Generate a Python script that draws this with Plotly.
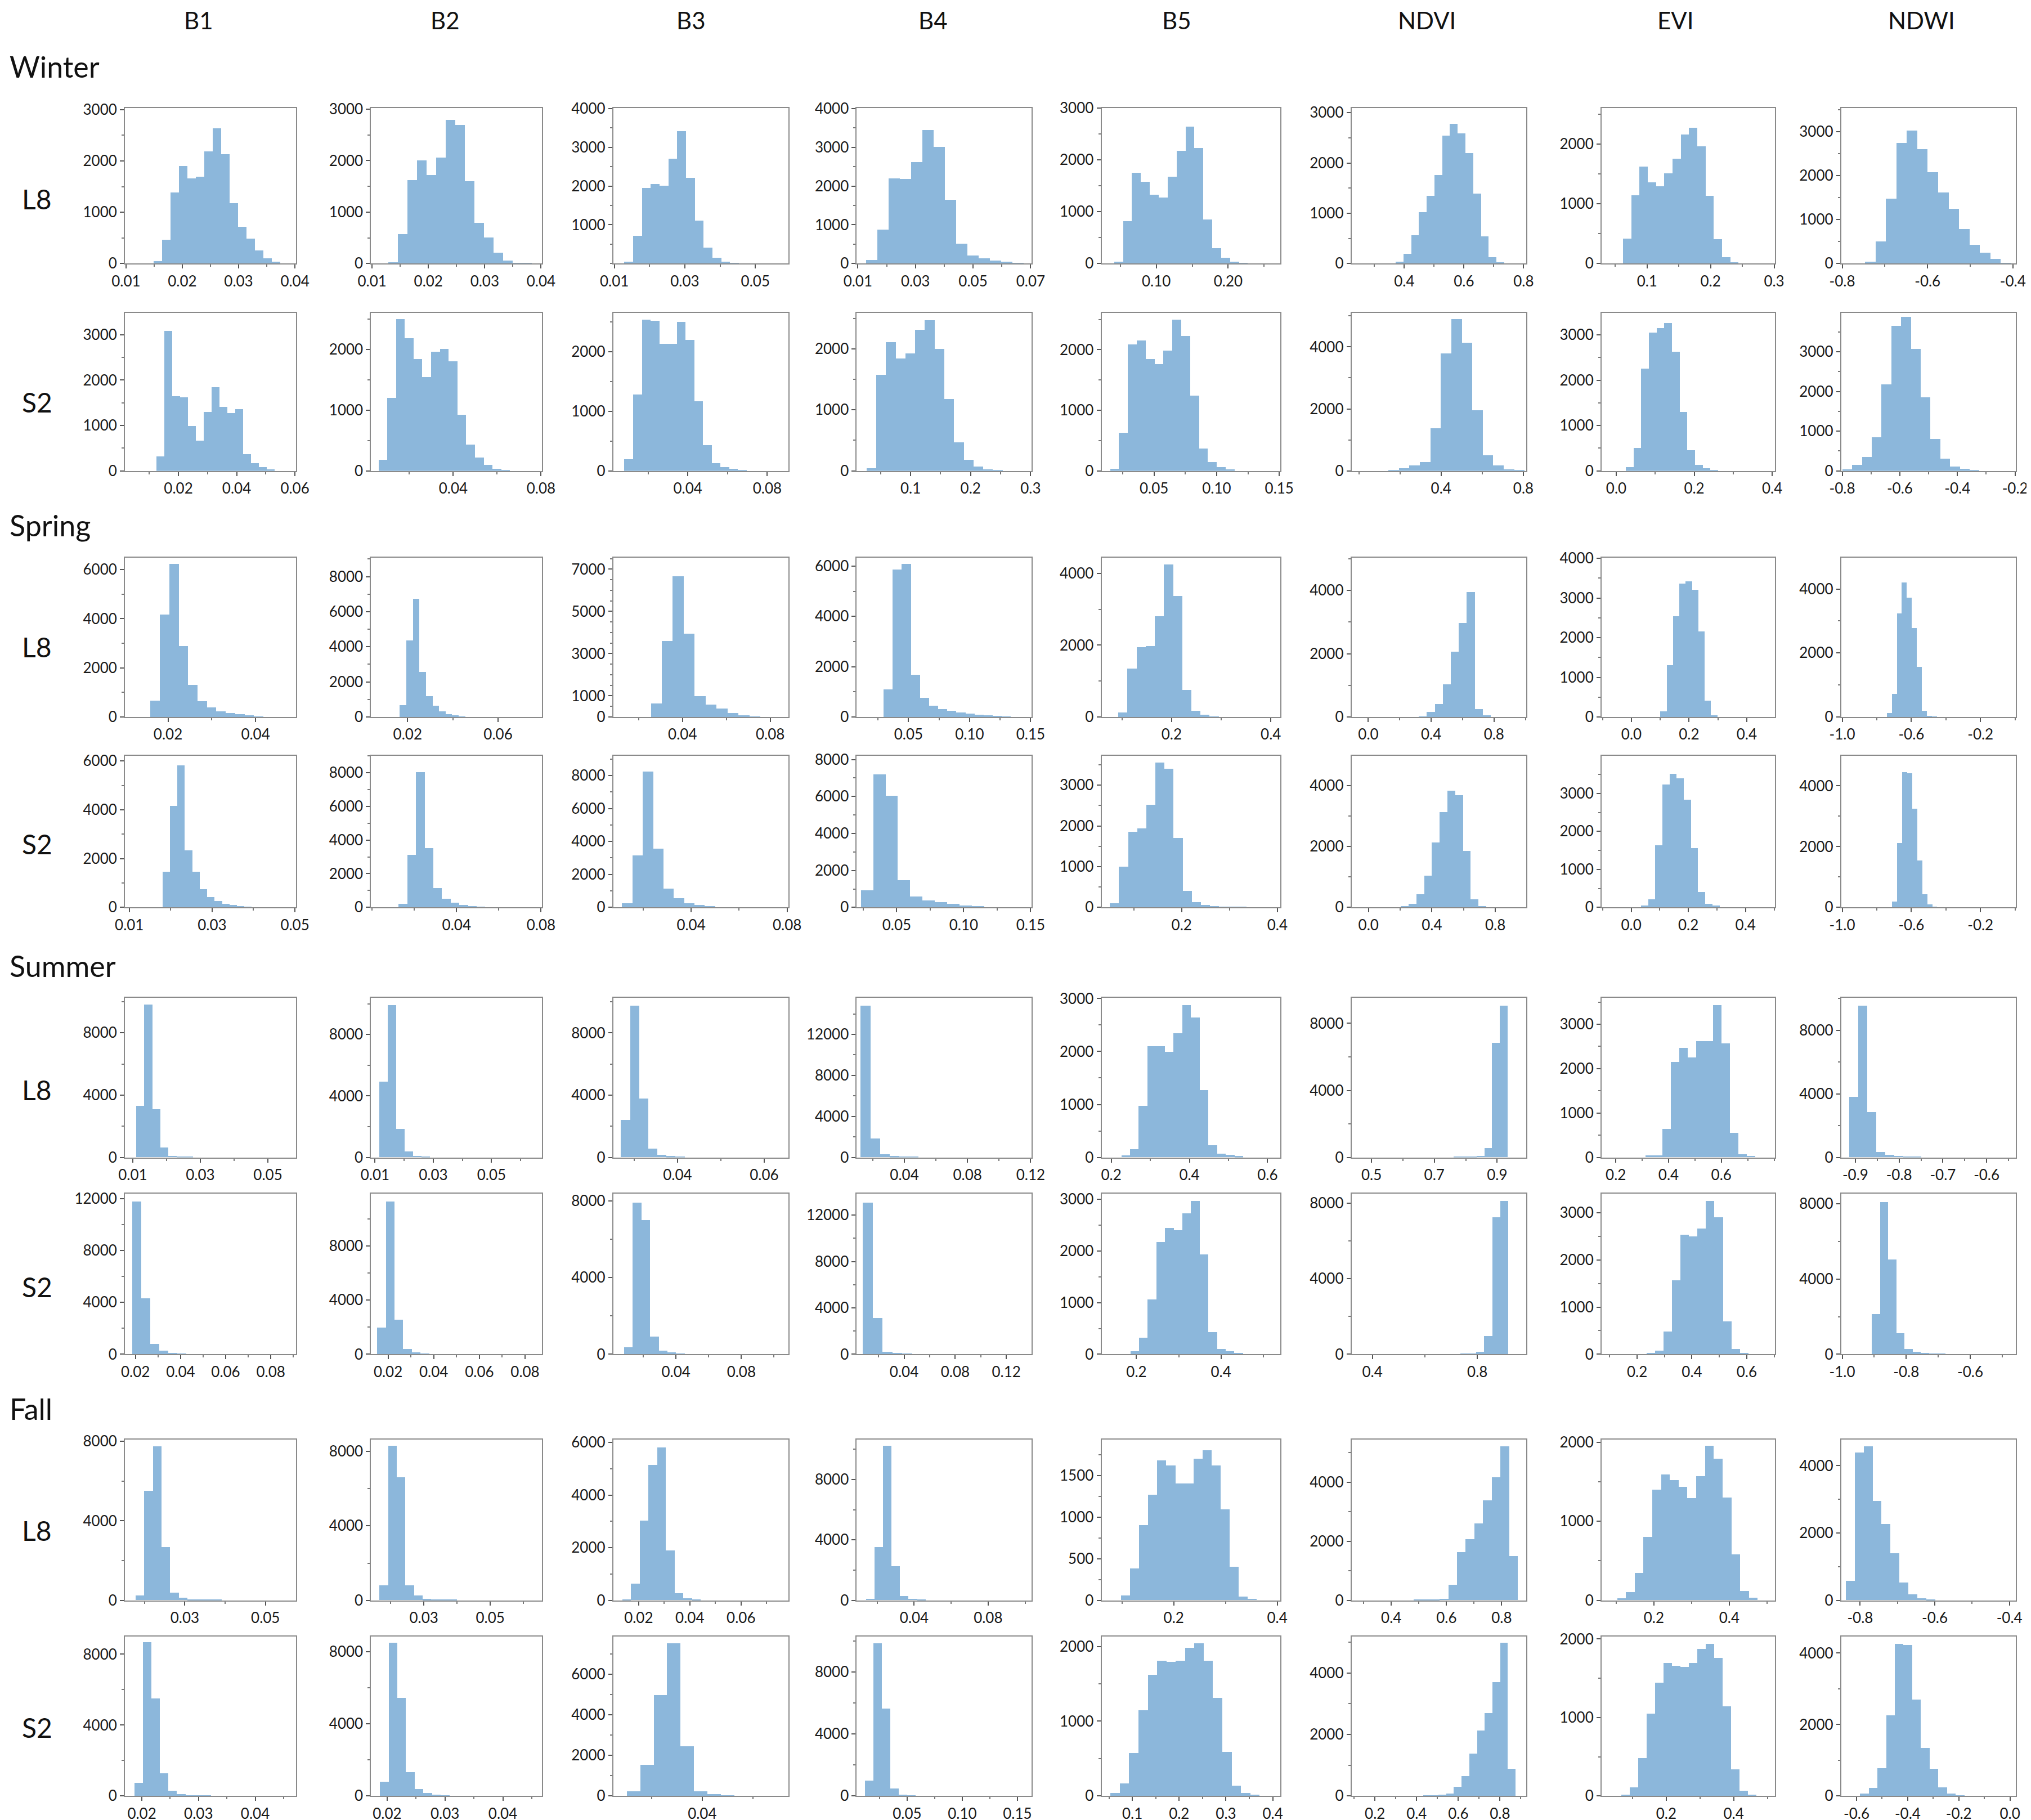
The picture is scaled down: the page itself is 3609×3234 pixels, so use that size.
import plotly.graph_objects as go

# ---------------- labels ----------------
bands = ["B1", "B2", "B3", "B4", "B5", "NDVI", "EVI", "NDWI"]
seasons = ["Winter", "Spring", "Summer", "Fall"]
sensors = ["L8", "S2"]

# ---------------- Winter / L8 ----------------
winter_l8_start = [0.0149, 0.0129, 0.0128, 0.013, 0.041, 0.3705, 0.062, -0.747]
winter_l8_width = [0.0015, 0.0017, 0.0025, 0.0039, 0.0124, 0.026, 0.013, 0.0245]
winter_l8_counts = [
    [50, 460, 1380, 1900, 1660, 1690, 2180, 2640, 2130, 1180, 720, 490, 260, 100, 30],
    [25, 570, 1620, 2000, 1720, 2060, 2790, 2690, 1600, 790, 500, 210, 60, 15, 10],
    [40, 710, 1950, 2050, 2000, 2710, 3410, 2210, 1110, 410, 150, 40, 10],
    [90, 880, 2200, 2180, 2610, 3440, 3010, 1650, 510, 210, 140, 80, 40, 20],
    [35, 820, 1750, 1580, 1330, 1270, 1680, 2180, 2640, 2230, 850, 300, 110, 30, 15],
    [40, 190, 560, 1020, 1350, 1760, 2540, 2780, 2590, 2200, 1390, 540, 120, 20],
    [420, 1140, 1620, 1360, 1290, 1510, 1750, 2160, 2270, 1960, 1130, 410, 110, 20],
    [40, 500, 1480, 2750, 3030, 2610, 2080, 1620, 1250, 790, 430, 240, 100, 20],
]
winter_l8_xrange = [[0.01, 0.04], [0.01, 0.04], [0.01, 0.059], [0.01, 0.07], [0.0255, 0.271],
                    [0.227, 0.806], [0.03, 0.3], [-0.8, -0.395]]
winter_l8_xticks = [["0.01", "0.02", "0.03", "0.04"], ["0.01", "0.02", "0.03", "0.04"],
                    ["0.01", "0.03", "0.05"], ["0.01", "0.03", "0.05", "0.07"], ["0.10", "0.20"],
                    ["0.4", "0.6", "0.8"], ["0.1", "0.2", "0.3"], ["-0.8", "-0.6", "-0.4"]]
winter_l8_yticks = [[0, 1000, 2000, 3000], [0, 1000, 2000, 3000], [1000, 2000, 3000, 4000],
                    [0, 1000, 2000, 3000, 4000], [0, 1000, 2000, 3000], [0, 1000, 2000, 3000],
                    [0, 1000, 2000], [0, 1000, 2000, 3000]]
winter_l8_ymax = [3030, 3020, 4010, 4010, 3000, 3090, 2600, 3540]

# ---------------- Winter / S2 ----------------
winter_s2_start = [0.0125, 0.006, 0.008, 0.027, 0.0147, 0.143, 0.0246, -0.8]
winter_s2_width = [0.0027, 0.004, 0.0044, 0.0162, 0.0071, 0.051, 0.0197, 0.034]
winter_s2_counts = [
    [320, 3090, 1650, 1620, 985, 665, 1300, 1850, 1415, 1270, 1360, 375, 175, 90, 30],
    [180, 1200, 2500, 2180, 1840, 1540, 1960, 2010, 1800, 925, 435, 220, 100, 40, 15],
    [200, 1280, 2540, 2520, 2130, 2130, 2500, 2200, 1170, 430, 130, 65, 40, 20],
    [40, 1580, 2110, 1840, 1930, 2310, 2470, 2000, 1180, 470, 180, 70, 25, 10],
    [40, 630, 2090, 2150, 1850, 1760, 1990, 2500, 2230, 1240, 370, 150, 65, 30],
    [30, 80, 170, 290, 1380, 3800, 4900, 4130, 1960, 500, 170, 60, 30],
    [90, 510, 2260, 3060, 3150, 3270, 2630, 1300, 460, 140, 60, 20],
    [45, 150, 350, 850, 2180, 3650, 3880, 3080, 1850, 810, 310, 110, 60, 30],
]
winter_s2_xrange = [[0.002, 0.06], [0.003, 0.08], [0.003, 0.09], [0.012, 0.3], [0.009, 0.15],
                    [-0.03, 0.81], [-0.035, 0.405], [-0.8, -0.2]]
winter_s2_xticks = [["0.02", "0.04", "0.06"], ["0.04", "0.08"], ["0.04", "0.08"], ["0.1", "0.2", "0.3"],
                    ["0.05", "0.10", "0.15"], ["0.4", "0.8"], ["0.0", "0.2", "0.4"],
                    ["-0.8", "-0.6", "-0.4", "-0.2"]]
winter_s2_yticks = [[0, 1000, 2000, 3000], [0, 1000, 2000], [0, 1000, 2000], [0, 1000, 2000],
                    [0, 1000, 2000], [0, 2000, 4000], [0, 1000, 2000, 3000],
                    [0, 1000, 2000, 3000, 4000]]
winter_s2_ymax = [3485, 2600, 2650, 2590, 2610, 5100, 3490, 3980]

# ---------------- Spring / L8 ----------------
spring_l8_start = [0.016, 0.0166, 0.0255, 0.0298, 0.092, 0.32, 0.1, -0.743]
spring_l8_width = [0.00215, 0.0029, 0.005, 0.00745, 0.0184, 0.051, 0.022, 0.029]
spring_l8_counts = [
    [660, 4170, 6240, 2890, 1320, 640, 400, 240, 170, 115, 70, 30],
    [690, 4380, 6740, 2580, 1200, 640, 320, 175, 90, 40],
    [640, 3600, 6670, 3940, 1000, 600, 390, 200, 85, 35],
    [1110, 5860, 6090, 1680, 770, 440, 320, 250, 190, 140, 100, 70, 45, 25],
    [120, 1350, 1940, 1980, 2810, 4250, 3370, 760, 170, 70, 25],
    [25, 160, 410, 1040, 2060, 2980, 3960, 250, 60],
    [150, 1310, 2550, 3370, 3430, 3210, 2160, 420, 50],
    [120, 730, 3230, 4210, 3730, 2780, 1570, 200, 40, 15],
]
spring_l8_xrange = [[0.0104, 0.049], [0.0043, 0.079], [0.0089, 0.0877], [0.0085, 0.15],
                    [0.061, 0.417], [-0.1, 1.0], [-0.1, 0.495], [-1.0, 0.0]]
spring_l8_xticks = [["0.02", "0.04"], ["0.02", "0.06"], ["0.04", "0.08"], ["0.05", "0.10", "0.15"],
                    ["0.2", "0.4"], ["0.0", "0.4", "0.8"], ["0.0", "0.2", "0.4"], ["-1.0", "-0.6", "-0.2"]]
spring_l8_yticks = [[0, 2000, 4000, 6000], [0, 2000, 4000, 6000, 8000], [0, 1000, 3000, 5000, 7000],
                    [0, 2000, 4000, 6000], [0, 2000, 4000], [0, 2000, 4000],
                    [0, 1000, 2000, 3000, 4000], [0, 2000, 4000]]
spring_l8_ymax = [6490, 9080, 7550, 6340, 4440, 5040, 4020, 4980]

# ---------------- Spring / S2 ----------------
spring_s2_start = [0.018, 0.0127, 0.0112, 0.0235, 0.0496, 0.203, 0.034, -0.712]
spring_s2_width = [0.0018, 0.0041, 0.0043, 0.0092, 0.019, 0.049, 0.025, 0.029]
spring_s2_counts = [
    [1460, 4160, 5820, 2340, 1460, 740, 420, 265, 155, 100, 60, 30],
    [220, 3120, 8040, 3520, 1140, 510, 270, 140, 80, 30],
    [250, 3160, 8230, 3570, 1140, 550, 250, 150, 70],
    [925, 7210, 6030, 1470, 585, 380, 270, 180, 110, 60],
    [100, 1000, 1850, 1940, 2520, 3550, 3400, 1700, 410, 135, 60, 30, 15, 10, 10],
    [40, 120, 430, 1050, 2140, 3130, 3830, 3690, 1850, 270, 40],
    [50, 210, 1640, 3240, 3510, 3400, 2840, 1560, 410, 90, 45],
    [200, 2120, 4460, 4420, 3240, 1540, 430, 100, 30],
]
spring_s2_xrange = [[0.0092, 0.05], [0.0, 0.08], [0.008, 0.08], [0.021, 0.15], [0.035, 0.404],
                    [-0.1, 0.99], [-0.1, 0.5], [-1.0, 0.0]]
spring_s2_xticks = [["0.01", "0.03", "0.05"], ["0.04", "0.08"], ["0.04", "0.08"],
                    ["0.05", "0.10", "0.15"], ["0.2", "0.4"], ["0.0", "0.4", "0.8"],
                    ["0.0", "0.2", "0.4"], ["-1.0", "-0.6", "-0.2"]]
spring_s2_yticks = [[0, 2000, 4000, 6000], [0, 2000, 4000, 6000, 8000], [0, 2000, 4000, 6000, 8000],
                    [0, 2000, 4000, 6000, 8000], [0, 1000, 2000, 3000], [0, 2000, 4000],
                    [0, 1000, 2000, 3000, 4000], [0, 2000, 4000]]
spring_s2_ymax = [6210, 9000, 9190, 8200, 3720, 4980, 3990, 4990]

# ---------------- Summer / L8 ----------------
summer_l8_start = [0.011, 0.0115, 0.0269, 0.0125, 0.225, 0.761, 0.312, -0.915]
summer_l8_width = [0.0024, 0.0029, 0.0021, 0.0061, 0.0223, 0.0245, 0.032, 0.0207]
summer_l8_counts = [
    [3280, 9780, 3080, 620, 80, 30, 15],
    [4920, 9890, 1850, 380, 80, 30],
    [2400, 9750, 3750, 540, 160, 60, 30],
    [14750, 1810, 270, 100, 50, 20],
    [30, 155, 970, 2100, 2100, 1990, 2340, 2870, 2640, 1270, 225, 60, 40, 20],
    [10, 15, 25, 70, 550, 6820, 9040],
    [40, 40, 630, 2140, 2460, 2250, 2610, 2620, 3430, 2560, 550, 70, 30],
    [3790, 9550, 2830, 320, 160, 80, 30, 20],
]
summer_l8_xrange = [[0.008, 0.058], [0.009, 0.067], [0.0254, 0.0653], [0.0105, 0.12],
                    [0.178, 0.63], [0.44, 0.99], [0.15, 0.80], [-0.93, -0.535]]
summer_l8_xticks = [["0.01", "0.03", "0.05"], ["0.01", "0.03", "0.05"], ["0.04", "0.06"],
                    ["0.04", "0.08", "0.12"], ["0.2", "0.4", "0.6"], ["0.5", "0.7", "0.9"],
                    ["0.2", "0.4", "0.6"], ["-0.9", "-0.8", "-0.7", "-0.6"]]
summer_l8_yticks = [[0, 4000, 8000], [0, 4000, 8000], [0, 4000, 8000], [0, 4000, 8000, 12000],
                    [0, 1000, 2000, 3000], [0, 4000, 8000], [0, 1000, 2000, 3000], [0, 4000, 8000]]
summer_l8_ymax = [10230, 10380, 10240, 15540, 3010, 9510, 3590, 10030]

# ---------------- Summer / S2 ----------------
summer_s2_start = [0.0186, 0.0153, 0.0082, 0.0079, 0.185, 0.6425, 0.234, -0.908]
summer_s2_width = [0.004, 0.0038, 0.0053, 0.0077, 0.0205, 0.0305, 0.031, 0.0255]
summer_s2_counts = [
    [11800, 4310, 780, 290, 100, 40],
    [1980, 11300, 2570, 410, 130, 60],
    [360, 7920, 6990, 920, 200, 90, 40],
    [13080, 3120, 220, 100, 40],
    [60, 320, 1060, 2170, 2450, 2400, 2730, 2970, 1930, 435, 100, 60, 30],
    [5, 10, 10, 20, 40, 130, 980, 7260, 8130],
    [30, 80, 480, 1570, 2530, 2500, 2660, 3250, 2900, 700, 110, 30],
    [2140, 8080, 5050, 1120, 280, 140, 70, 30, 15],
]
summer_s2_xrange = [[0.0158, 0.0907], [0.013, 0.087], [0.0023, 0.108], [0.0038, 0.139],
                    [0.12, 0.538], [0.325, 0.983], [0.074, 0.70], [-1.0, -0.46]]
summer_s2_xticks = [["0.02", "0.04", "0.06", "0.08"], ["0.02", "0.04", "0.06", "0.08"],
                    ["0.04", "0.08"], ["0.04", "0.08", "0.12"], ["0.2", "0.4"], ["0.4", "0.8"],
                    ["0.2", "0.4", "0.6"], ["-1.0", "-0.8", "-0.6"]]
summer_s2_yticks = [[0, 4000, 8000, 12000], [0, 4000, 8000], [0, 4000, 8000], [0, 4000, 8000, 12000],
                    [0, 1000, 2000, 3000], [0, 4000, 8000], [0, 1000, 2000, 3000], [0, 4000, 8000]]
summer_s2_ymax = [12390, 11870, 8380, 13850, 3110, 8510, 3400, 8540]

# ---------------- Fall / L8 ----------------
fall_l8_start = [0.0178, 0.0167, 0.0136, 0.0141, 0.0975, 0.48, 0.1025, -0.839]
fall_l8_width = [0.00214, 0.0026, 0.0034, 0.0046, 0.0175, 0.0315, 0.0233, 0.024]
fall_l8_counts = [
    [240, 5490, 7750, 2680, 390, 130, 50, 30, 20, 20],
    [800, 8280, 6590, 800, 250, 60, 50, 40, 30],
    [30, 630, 3030, 5130, 5800, 1900, 260, 80, 30],
    [100, 3510, 10200, 2240, 290, 80, 40],
    [60, 380, 900, 1270, 1680, 1620, 1400, 1400, 1700, 1800, 1620, 1090, 400, 45, 15],
    [10, 15, 25, 40, 530, 1620, 2060, 2600, 3380, 4170, 5220, 1490],
    [25, 100, 345, 800, 1395, 1590, 1515, 1430, 1290, 1570, 1950, 1790, 1300, 580, 120, 30],
    [580, 4380, 4570, 2950, 2270, 1400, 520, 180, 60, 20],
]
fall_l8_xrange = [[0.0154, 0.0573], [0.0144, 0.0653], [0.0105, 0.078], [0.0095, 0.103],
                  [0.0625, 0.404], [0.26, 0.886], [0.064, 0.519], [-0.848, -0.385]]
fall_l8_xticks = [["0.03", "0.05"], ["0.03", "0.05"], ["0.02", "0.04", "0.06"], ["0.04", "0.08"],
                  ["0.2", "0.4"], ["0.4", "0.6", "0.8"], ["0.2", "0.4"], ["-0.8", "-0.6", "-0.4"]]
fall_l8_yticks = [[0, 4000, 8000], [0, 4000, 8000], [0, 2000, 4000, 6000], [0, 4000, 8000],
                  [0, 500, 1000, 1500], [0, 2000, 4000], [0, 1000, 2000], [0, 2000, 4000]]
fall_l8_ymax = [8080, 8620, 6100, 10620, 1930, 5440, 2030, 4770]

# ---------------- Fall / S2 ----------------
fall_s2_start = [0.0187, 0.0188, 0.0102, 0.0119, 0.0528, 0.43, 0.0667, -0.587]
fall_s2_width = [0.0015, 0.0015, 0.0053, 0.0077, 0.0199, 0.037, 0.025, 0.034]
fall_s2_counts = [
    [750, 8660, 5490, 1270, 300, 100, 50, 30, 20],
    [800, 8510, 5450, 1310, 390, 175, 70, 30],
    [230, 1520, 4960, 7530, 2430, 230, 90, 40],
    [1000, 9860, 5630, 490, 85, 35],
    [35, 170, 570, 1145, 1620, 1810, 1790, 1810, 1980, 2040, 1810, 1310, 590, 140, 35, 15],
    [15, 25, 40, 70, 300, 640, 1380, 2120, 2700, 3690, 4980, 880],
    [15, 110, 480, 1050, 1440, 1690, 1660, 1645, 1690, 1870, 1940, 1760, 1140, 340, 65, 15],
    [60, 220, 780, 2250, 4250, 4220, 2700, 1340, 760, 240, 60, 20],
]
fall_s2_xrange = [[0.0172, 0.047], [0.0174, 0.0466], [0.0053, 0.0735], [0.0053, 0.162],
                  [0.0366, 0.414], [0.093, 0.922], [0.011, 0.52], [-0.656, 0.02]]
fall_s2_xticks = [["0.02", "0.03", "0.04"], ["0.02", "0.03", "0.04"], ["0.04", "0.08"],
                  ["0.05", "0.10", "0.15"], ["0.1", "0.2", "0.3", "0.4"], ["0.2", "0.4", "0.6", "0.8"],
                  ["0.2", "0.4"], ["-0.6", "-0.4", "-0.2", "0.0"]]
fall_s2_yticks = [[0, 4000, 8000], [0, 4000, 8000], [0, 2000, 4000, 6000], [0, 4000, 8000],
                  [0, 1000, 2000], [0, 2000, 4000], [0, 1000, 2000], [0, 2000, 4000]]
fall_s2_ymax = [8990, 8840, 7850, 10290, 2130, 5180, 2030, 4460]

rows = [
    (winter_l8_start, winter_l8_width, winter_l8_counts, winter_l8_xrange, winter_l8_xticks, winter_l8_yticks, winter_l8_ymax),
    (winter_s2_start, winter_s2_width, winter_s2_counts, winter_s2_xrange, winter_s2_xticks, winter_s2_yticks, winter_s2_ymax),
    (spring_l8_start, spring_l8_width, spring_l8_counts, spring_l8_xrange, spring_l8_xticks, spring_l8_yticks, spring_l8_ymax),
    (spring_s2_start, spring_s2_width, spring_s2_counts, spring_s2_xrange, spring_s2_xticks, spring_s2_yticks, spring_s2_ymax),
    (summer_l8_start, summer_l8_width, summer_l8_counts, summer_l8_xrange, summer_l8_xticks, summer_l8_yticks, summer_l8_ymax),
    (summer_s2_start, summer_s2_width, summer_s2_counts, summer_s2_xrange, summer_s2_xticks, summer_s2_yticks, summer_s2_ymax),
    (fall_l8_start, fall_l8_width, fall_l8_counts, fall_l8_xrange, fall_l8_xticks, fall_l8_yticks, fall_l8_ymax),
    (fall_s2_start, fall_s2_width, fall_s2_counts, fall_s2_xrange, fall_s2_xticks, fall_s2_yticks, fall_s2_ymax),
]

# ---------------- layout geometry (reference pixels, 1568 x 1405 view) ----------------
REF_W, REF_H = 1568.0, 1405.0
col_px = [(93, 225), (283, 415), (470, 605), (658, 793), (847, 985), (1040, 1175), (1233, 1367), (1418, 1553)]
row_px = [(80, 200), (238, 360), (427, 550), (580, 697), (767, 890), (918, 1042), (1108, 1232), (1260, 1383)]
header_x = [150, 340, 530, 717, 905, 1098, 1290, 1480]
season_y = [48, 402, 742, 1084]
sensor_y = [150, 307, 496, 648, 838, 990, 1178, 1330]

BAR_COLOR = "#8cb7db"
FONT = "Lato, 'Open Sans', sans-serif"
TICK_FONT = dict(family=FONT, size=26, color="#1a1a1a")


def minor_ticks(major, lo, hi):
    """Unlabelled ticks halfway between the labelled ones (as in the reference)."""
    if len(major) < 2:
        return []
    step = min(b - a for a, b in zip(major[:-1], major[1:])) / 2.0
    out = []
    v = major[0]
    while v - step >= lo - 1e-12:
        v -= step
    while v <= hi + 1e-12:
        if all(abs(v - m) > step * 1e-3 for m in major):
            out.append(round(v, 10))
        v += step
    return out


fig = go.Figure()
layout = {}
k = 0
for r, (starts, widths, counts, xr, xt, yt, ym) in enumerate(rows):
    for c in range(8):
        k += 1
        xa = "x" if k == 1 else f"x{k}"
        ya = "y" if k == 1 else f"y{k}"
        cts = counts[c]
        centers = [starts[c] + widths[c] * (i + 0.5) for i in range(len(cts))]
        fig.add_trace(go.Bar(
            x=centers, y=cts, width=[widths[c]] * len(cts),
            marker=dict(color=BAR_COLOR, line=dict(width=0)),
            xaxis=xa, yaxis=ya, showlegend=False,
            name=f"{seasons[r // 2]} {sensors[r % 2]} {bands[c]}",
        ))
        x0, x1 = col_px[c]
        y0, y1 = row_px[r]
        span = xr[c][1] - xr[c][0]
        xlo, xhi = xr[c][0] - 0.006 * span, xr[c][1] + 0.006 * span
        xvals = [float(t) for t in xt[c]]
        common = dict(
            showline=True, mirror=True, linecolor="#8a8a8a", linewidth=2,
            ticks="outside", ticklen=7, tickwidth=2, tickcolor="#555555",
            showgrid=False, zeroline=False, tickfont=TICK_FONT,
            fixedrange=True, automargin=False,
        )
        layout["xaxis" if k == 1 else f"xaxis{k}"] = dict(
            domain=[x0 / REF_W, x1 / REF_W], anchor=ya,
            range=[xlo, xhi],
            tickmode="array", tickvals=xvals, ticktext=xt[c],
            minor=dict(tickmode="array", tickvals=minor_ticks(xvals, xlo, xhi),
                       ticks="outside", ticklen=4, tickwidth=2, tickcolor="#777777", showgrid=False),
            **common,
        )
        layout["yaxis" if k == 1 else f"yaxis{k}"] = dict(
            domain=[1 - y1 / REF_H, 1 - y0 / REF_H], anchor=xa,
            range=[0, ym[c]],
            tickmode="array", tickvals=yt[c], ticktext=[str(v) for v in yt[c]],
            minor=dict(tickmode="array", tickvals=minor_ticks(yt[c], 0, ym[c]),
                       ticks="outside", ticklen=4, tickwidth=2, tickcolor="#777777", showgrid=False),
            **common,
        )

annotations = []
for i, b in enumerate(bands):
    annotations.append(dict(text=b, x=header_x[i] / REF_W, y=1 - 12 / REF_H, xref="paper", yref="paper",
                            showarrow=False, xanchor="center", yanchor="middle",
                            font=dict(family=FONT, size=42, color="#111111")))
for i, s in enumerate(seasons):
    annotations.append(dict(text=s, x=3 / REF_W, y=1 - season_y[i] / REF_H, xref="paper", yref="paper",
                            showarrow=False, xanchor="left", yanchor="middle",
                            font=dict(family=FONT, size=52, color="#111111")))
for i, yy in enumerate(sensor_y):
    annotations.append(dict(text=sensors[i % 2], x=25 / REF_W, y=1 - yy / REF_H, xref="paper", yref="paper",
                            showarrow=False, xanchor="center", yanchor="middle",
                            font=dict(family=FONT, size=48, color="#111111")))

fig.update_layout(
    width=3609, height=3234,
    margin=dict(l=0, r=0, t=0, b=0, pad=0, autoexpand=False),
    paper_bgcolor="white", plot_bgcolor="white",
    bargap=0, showlegend=False,
    annotations=annotations,
    **layout,
)

fig.write_html("out.html")
